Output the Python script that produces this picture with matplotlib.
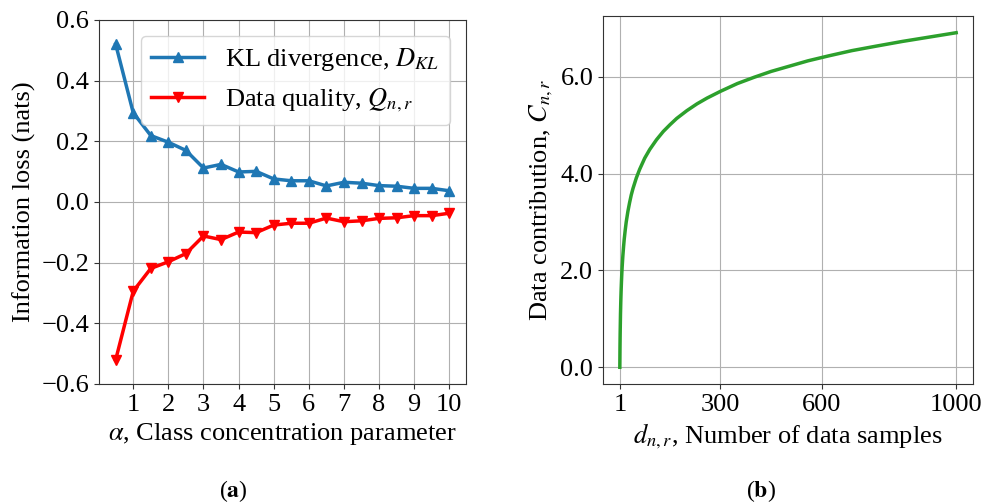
import matplotlib
matplotlib.use("Agg")
import matplotlib.pyplot as plt

plt.rcParams["font.family"] = ["Liberation Serif", "DejaVu Serif"]
plt.rcParams["mathtext.fontset"] = "stix"
plt.rcParams["font.size"] = 19

# (a) information loss vs class concentration
alpha = [0.5, 1.0, 1.5, 2.0, 2.5, 3.0, 3.5, 4.0, 4.5, 5.0,
         5.5, 6.0, 6.5, 7.0, 7.5, 8.0, 8.5, 9.0, 9.5, 10.0]
kl_div = [0.520, 0.294, 0.219, 0.197, 0.170, 0.112, 0.124, 0.099, 0.101, 0.076,
          0.070, 0.070, 0.053, 0.065, 0.062, 0.054, 0.052, 0.045, 0.045, 0.037]
quality = [-0.520, -0.294, -0.219, -0.197, -0.170, -0.112, -0.124, -0.099, -0.101, -0.076,
           -0.070, -0.070, -0.053, -0.065, -0.062, -0.054, -0.052, -0.045, -0.045, -0.037]

# (b) data contribution vs number of samples
samples = [1, 1.5, 2, 3, 4, 5, 6, 7, 8, 10, 12, 14, 17, 20, 25, 30, 35, 40, 50,
           60, 75, 90, 110, 130, 150, 170, 200, 230, 260, 300, 350, 400, 450,
           500, 560, 620, 690, 760, 840, 920, 1000]
contrib = [0.00, 0.41, 0.69, 1.10, 1.39, 1.61, 1.79, 1.95, 2.08, 2.30, 2.48, 2.64,
           2.83, 3.00, 3.22, 3.40, 3.56, 3.69, 3.91, 4.09, 4.32, 4.50, 4.70, 4.87,
           5.01, 5.14, 5.30, 5.44, 5.56, 5.70, 5.86, 5.99, 6.11, 6.21, 6.33, 6.43,
           6.54, 6.63, 6.73, 6.82, 6.91]

fig = plt.figure(figsize=(9.94, 5.04), dpi=100)
ax1 = fig.add_axes([99/994, 1 - 384/504, 367/994, 364/504])
ax2 = fig.add_axes([603/994, 1 - 384/504, 370/994, 368/504])

for ax in (ax1, ax2):
    ax.grid(True, color="#b0b0b0", linewidth=0.8)
    ax.set_axisbelow(True)
    for s in ax.spines.values():
        s.set_color("#333333")
    ax.tick_params(colors="#333333", labelcolor="black", labelsize=19)

ax1.plot(alpha, kl_div, color="#1f77b4", marker="^", markersize=7, linewidth=2.5,
         label=r"KL divergence, $D_{KL}$")
ax1.plot(alpha, quality, color="red", marker="v", markersize=7, linewidth=2.5,
         label=r"Data quality, $Q_{n,r}$")
ax1.set_ylim(-0.6, 0.6)
ax1.set_yticks([-0.6, -0.4, -0.2, 0.0, 0.2, 0.4, 0.6])
ax1.set_xticks(range(1, 11))
ax1.set_xlabel(r"$\alpha$, Class concentration parameter")
ax1.set_ylabel("Information loss (nats)")
ax1.legend(loc="upper right", fontsize=19, framealpha=0.8, edgecolor="#cccccc",
           handlelength=2.0, borderaxespad=0.6)

ax2.plot(samples, contrib, color="#2ca02c", linewidth=2.5)
ax2.set_xticks([1, 300, 600, 1000])
ax2.set_yticks([0.0, 2.0, 4.0, 6.0])
ax2.set_yticklabels(["0.0", "2.0", "4.0", "6.0"])
ax2.set_xlabel(r"$d_{n,r}$, Number of data samples")
ax2.set_ylabel(r"Data contribution, $C_{n,r}$")

fig.text(233/994, 1 - 491/504, r"($\mathbf{a}$)", ha="center", va="center", fontsize=17)
fig.text(761/994, 1 - 491/504, r"($\mathbf{b}$)", ha="center", va="center", fontsize=17)

fig.savefig("out.png", dpi=100)
